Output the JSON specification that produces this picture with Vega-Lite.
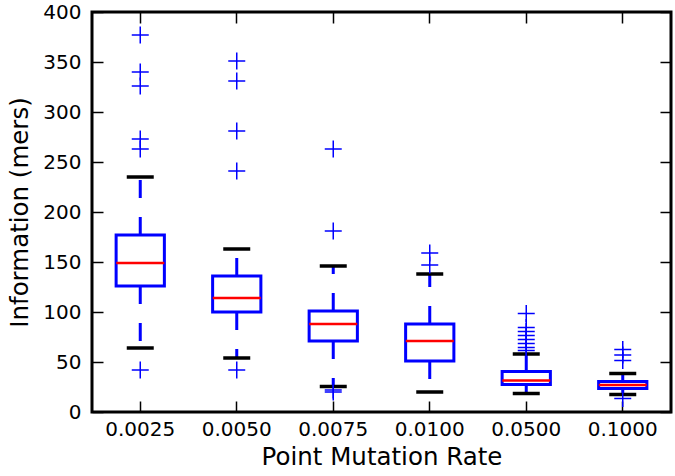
{
  "$schema": "https://vega.github.io/schema/vega-lite/v6.json",
  "autosize": {"type": "none"},
  "padding": {"left": 92, "top": 12, "right": 4, "bottom": 64},
  "width": 579,
  "height": 400,
  "datasets": {
    "boxes": [
      {"rate": "0.0025", "lo": 64, "q1": 126, "median": 149, "q3": 177, "hi": 235},
      {"rate": "0.0050", "lo": 54, "q1": 100, "median": 114, "q3": 136, "hi": 163},
      {"rate": "0.0075", "lo": 25.5, "q1": 71, "median": 88, "q3": 101, "hi": 146},
      {"rate": "0.0100", "lo": 20, "q1": 51, "median": 71, "q3": 88, "hi": 138},
      {"rate": "0.0500", "lo": 18.5, "q1": 27.5, "median": 31.5, "q3": 40.5, "hi": 58},
      {"rate": "0.1000", "lo": 17.5, "q1": 23.5, "median": 27, "q3": 30.5, "hi": 38.5}
    ],
    "outliers": [
      {"rate": "0.0025", "value": 377},
      {"rate": "0.0025", "value": 340},
      {"rate": "0.0025", "value": 326},
      {"rate": "0.0025", "value": 273},
      {"rate": "0.0025", "value": 263},
      {"rate": "0.0025", "value": 42},
      {"rate": "0.0050", "value": 351},
      {"rate": "0.0050", "value": 331},
      {"rate": "0.0050", "value": 281},
      {"rate": "0.0050", "value": 241},
      {"rate": "0.0050", "value": 42},
      {"rate": "0.0075", "value": 263},
      {"rate": "0.0075", "value": 181},
      {"rate": "0.0075", "value": 22},
      {"rate": "0.0075", "value": 20},
      {"rate": "0.0100", "value": 159},
      {"rate": "0.0100", "value": 147},
      {"rate": "0.0500", "value": 98.5},
      {"rate": "0.0500", "value": 84.5},
      {"rate": "0.0500", "value": 80.5},
      {"rate": "0.0500", "value": 76.5},
      {"rate": "0.0500", "value": 72.5},
      {"rate": "0.0500", "value": 68.5},
      {"rate": "0.0500", "value": 64.5},
      {"rate": "0.0500", "value": 61.5},
      {"rate": "0.1000", "value": 62.5},
      {"rate": "0.1000", "value": 57},
      {"rate": "0.1000", "value": 51.5},
      {"rate": "0.1000", "value": 13.5}
    ]
  },
  "config": {
    "view": {"stroke": "black", "strokeWidth": 3},
    "font": "DejaVu Sans",
    "axis": {
      "domain": false,
      "grid": false,
      "tickColor": "black",
      "tickWidth": 1.5,
      "tickSize": 11,
      "offset": -11,
      "labelFont": "DejaVu Sans",
      "labelFontSize": 20,
      "labelColor": "black",
      "titleFont": "DejaVu Sans",
      "titleFontSize": 24.5,
      "titleFontWeight": "normal",
      "titleColor": "black"
    }
  },
  "resolve": {"axis": {"x": "independent", "y": "independent"}},
  "layer": [
    {
      "layer": [
        {
          "data": {"name": "boxes"},
          "mark": {"type": "rule", "color": "#0000ff", "strokeWidth": 3, "strokeDash": [18, 19]},
          "encoding": {
            "x": {"field": "rate", "type": "nominal", "sort": null, "scale": {"paddingInner": 0, "paddingOuter": 0},
              "axis": {"orient": "bottom", "labelAngle": 0, "labelPadding": 7, "title": "Point Mutation Rate", "titlePadding": 6}},
            "y": {"field": "q1", "type": "quantitative", "scale": {"domain": [0, 400], "nice": false},
              "axis": {"orient": "left", "values": [0, 50, 100, 150, 200, 250, 300, 350, 400], "labelPadding": 11, "title": "Information (mers)", "titlePadding": 10}},
            "y2": {"field": "lo"}
          }
        },
        {
          "data": {"name": "boxes"},
          "mark": {"type": "rule", "color": "#0000ff", "strokeWidth": 3, "strokeDash": [18, 19]},
          "encoding": {
            "x": {"field": "rate", "type": "nominal", "sort": null},
            "y": {"field": "q3", "type": "quantitative"},
            "y2": {"field": "hi"}
          }
        },
        {
          "data": {"name": "boxes"},
          "mark": {"type": "bar", "width": {"band": 0.5}, "fill": "white", "stroke": "#0000ff", "strokeWidth": 3},
          "encoding": {
            "x": {"field": "rate", "type": "nominal", "sort": null},
            "y": {"field": "q1", "type": "quantitative"},
            "y2": {"field": "q3"}
          }
        },
        {
          "data": {"name": "boxes"},
          "mark": {"type": "tick", "orient": "horizontal", "color": "#ff0000", "size": 48, "thickness": 2.5, "opacity": 1},
          "encoding": {
            "x": {"field": "rate", "type": "nominal", "sort": null},
            "y": {"field": "median", "type": "quantitative"}
          }
        },
        {
          "data": {"name": "boxes"},
          "mark": {"type": "tick", "orient": "horizontal", "color": "black", "size": 27, "thickness": 3.5, "opacity": 1},
          "encoding": {
            "x": {"field": "rate", "type": "nominal", "sort": null},
            "y": {"field": "lo", "type": "quantitative"}
          }
        },
        {
          "data": {"name": "boxes"},
          "mark": {"type": "tick", "orient": "horizontal", "color": "black", "size": 27, "thickness": 3.5, "opacity": 1},
          "encoding": {
            "x": {"field": "rate", "type": "nominal", "sort": null},
            "y": {"field": "hi", "type": "quantitative"}
          }
        },
        {
          "data": {"name": "outliers"},
          "mark": {"type": "point", "shape": "M-1,0H1M0,-1V1", "filled": false, "stroke": "#0000ff", "strokeWidth": 1.5, "size": 289, "opacity": 1},
          "encoding": {
            "x": {"field": "rate", "type": "nominal", "sort": null},
            "y": {"field": "value", "type": "quantitative"}
          }
        }
      ]
    },
    {
      "data": {"name": "boxes"},
      "mark": {"type": "point", "opacity": 0},
      "encoding": {
        "x": {"field": "rate", "type": "nominal", "sort": null,
          "axis": {"orient": "top", "labels": false, "title": null}},
        "y": {"field": "median", "type": "quantitative",
          "axis": {"orient": "right", "labels": false, "title": null, "values": [0, 50, 100, 150, 200, 250, 300, 350, 400]}}
      }
    }
  ]
}
